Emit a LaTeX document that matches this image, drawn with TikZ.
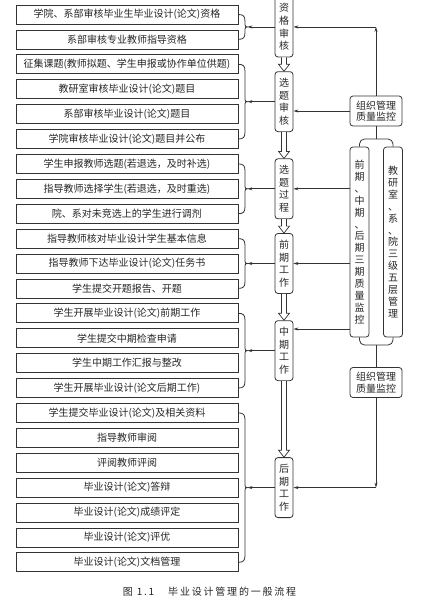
\documentclass[tikz,border=0pt]{standalone}
\usepackage{fontspec}
\setmainfont{Noto Sans CJK SC}
\newfontfamily\capfont[LetterSpace=18]{Noto Sans CJK SC}
\usetikzlibrary{arrows.meta,calc}
\newcommand\hollowarrow[2]{%
  \draw[line, line width=0.7pt, fill=white]
    ($(#1.south)+(-2.5,0)$) -- ($(#2.north)+(-2.5,-7)$) -- ($(#2.north)+(-5.5,-7)$) --
    (#2.north) -- ($(#2.north)+(5.5,-7)$) -- ($(#2.north)+(2.5,-7)$) -- ($(#1.south)+(2.5,0)$);}
\begin{document}
\begin{tikzpicture}[x=1pt,y=-1pt,
  line/.style={draw=black!80, line width=0.8pt},
  lbox/.style={line, minimum width=222pt, minimum height=19pt, inner sep=0pt,
    font=\fontsize{10}{11}\selectfont, text=black!85},
  stagebox/.style={line, rounded corners=3pt, minimum width=18pt, minimum height=60pt,
    inner sep=0pt, align=center, text=black!85, font=\fontsize{10}{12.6}\selectfont},
  tallbox/.style={line, rounded corners=3pt, minimum width=19pt, minimum height=190pt,
    inner sep=0pt, align=center, text=black!85, font=\fontsize{10}{11.9}\selectfont},
  mbox/.style={line, rounded corners=3pt, minimum width=52pt, minimum height=30pt,
    inner sep=0pt, align=center, text=black!85, font=\fontsize{10}{11.5}\selectfont},
  arr/.style={line, -{Stealth[length=5pt,width=3pt]}},
]
\clip (0,0) rectangle (434,606);
\fill[white] (0,0) rectangle (434,606);

% left boxes
\foreach \t [count=\i] in {
  学院、系部审核毕业生毕业设计(论文)资格,
  系部审核专业教师指导资格,
  征集课题(教师拟题、学生申报或协作单位供题),
  教研室审核毕业设计(论文)题目,
  系部审核毕业设计(论文)题目,
  学院审核毕业设计(论文)题目并公布,
  学生申报教师选题(若退选，及时补选),
  指导教师选择学生(若退选，及时重选),
  院、系对未竞选上的学生进行调剂,
  指导教师核对毕业设计学生基本信息,
  指导教师下达毕业设计(论文)任务书,
  学生提交开题报告、开题,
  学生开展毕业设计(论文)前期工作,
  学生提交中期检查申请,
  学生中期工作汇报与整改,
  学生开展毕业设计(论文后期工作),
  学生提交毕业设计(论文)及相关资料,
  指导教师审阅,
  评阅教师评阅,
  毕业设计(论文)答辩,
  毕业设计(论文)成绩评定,
  毕业设计(论文)评优,
  毕业设计(论文)文档管理}
  \node[lbox] (L\i) at (127,{14.5+24.9*(\i-1)}) {\t};

% braces and their tips
\foreach \a/\b/\n in {1/2/1, 3/6/2, 7/9/3, 10/12/4, 13/16/5, 17/23/6}{
  \coordinate (m\n) at ($(L\a.east)!0.5!(L\b.east)$);
  \coordinate (b\n) at ($(m\n)+(9,0)$);
  \draw[line] (L\a.east) .. controls +(5,0) and +(0,-4) .. ($(L\a.east)+(6.5,6)$)
    -- ($(m\n)+(6.5,-2.5)$) .. controls +(0,2) and +(-1.5,0) .. (b\n)
    .. controls +(-1.5,0) and +(0,-2) .. ($(m\n)+(6.5,2.5)$)
    -- ($(L\b.east)+(6.5,-6)$) .. controls +(0,4) and +(5,0) .. (L\b.east);
}

% stage boxes
\node[stagebox] (s1) at (284,0 |- b1) {资\\格\\审\\核};
\node[stagebox] (s2) at (284,0 |- b2) {选\\题\\审\\核};
\node[stagebox] (s3) at (284,0 |- b3) {选\\题\\过\\程};
\node[stagebox] (s4) at (284,0 |- b4) {前\\期\\工\\作};
\node[stagebox] (s5) at (284,0 |- b5) {中\\期\\工\\作};
\node[stagebox] (s6) at (284,0 |- b6) {后\\期\\工\\作};

\hollowarrow{s1}{s2}
\hollowarrow{s2}{s3}
\hollowarrow{s3}{s4}
\hollowarrow{s4}{s5}
\hollowarrow{s5}{s6}

\foreach \n in {1,...,6}
  \draw[arr] (s\n.west) -- (b\n |- s\n.west);

% right column
\node[mbox] (m1) at (376,111) {组织管理\\质量监控};
\node[tallbox] (t1) at (359.5,242) {前\\期\\、\\中\\期\\、\\后\\期\\三\\期\\质\\量\\监\\控};
\node[tallbox] (t2) at (393,242) {教\\研\\室\\、\\系\\、\\院\\三\\级\\五\\层\\管\\理};
\node[mbox] (m2) at (376,382.5) {组织管理\\质量监控};

\coordinate (c1) at (m1.north |- s1.east);
\draw[arr] (m1.north) -- (c1);
\draw[arr] (c1) -- (s1.east);
\draw[arr] (m1.west) -- (m1.west -| s2.east);

\coordinate (tj) at (376,139);
\draw[line] (m1.south) -- (tj);
\draw[line, rounded corners=5pt] (t1.north) |- (tj) -| (t2.north);
\coordinate (bj) at (376,345);
\draw[line, rounded corners=5pt] (t1.south) |- (bj) -| (t2.south);
\draw[line] (bj) -- (m2.north);

\draw[arr] (t1.west |- s3.east) -- (s3.east);
\draw[arr] (t1.west |- s4.east) -- (s4.east);
\coordinate (k5) at (359.5,329);
\draw[arr] (t1.west |- k5) -- (s5.east |- k5);

\coordinate (c6) at (m2.south |- s6.east);
\draw[arr] (m2.south) -- (c6);
\draw[arr] (c6) -- (s6.east);

% caption
\node[font=\fontsize{10}{12}\selectfont, text=black!85] (cap) at (209.5,592)
  {\capfont 图\hspace{4pt}1.1\hspace{14pt}毕业设计管理的一般流程};
\end{tikzpicture}
\end{document}
